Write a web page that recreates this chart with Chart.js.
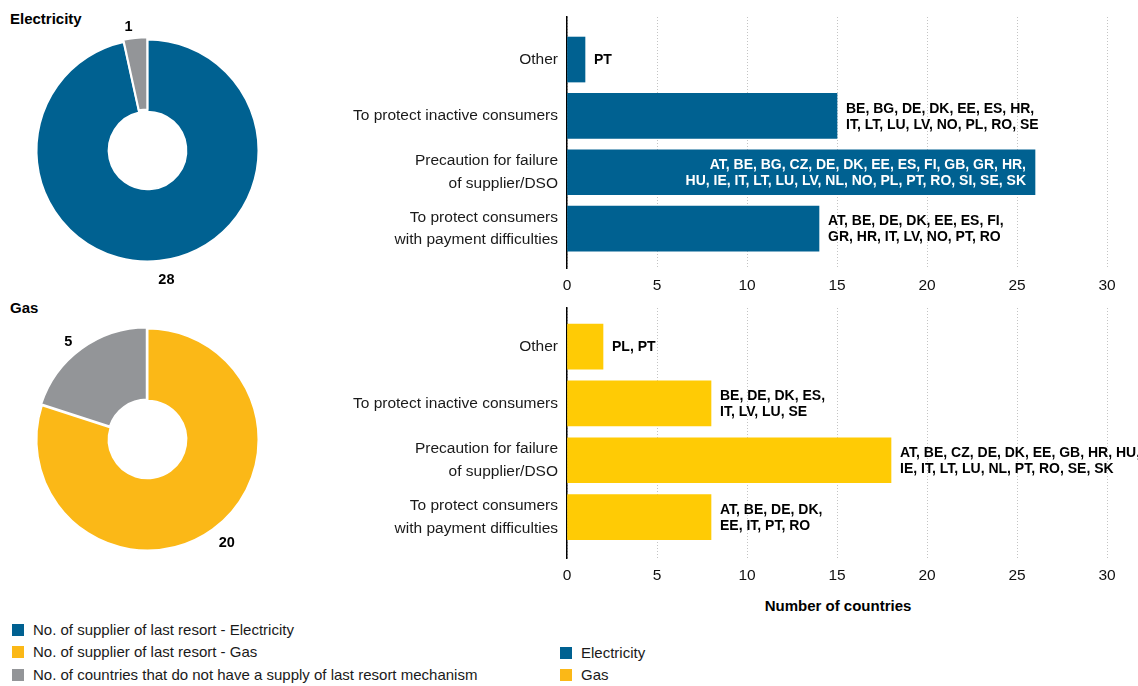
<!DOCTYPE html>
<html><head><meta charset="utf-8">
<script src="https://cdn.jsdelivr.net/npm/chart.js@4.4.0/dist/chart.umd.min.js"></script>
<style>
body{margin:0;background:#fff;font-family:"Liberation Sans","Arial",sans-serif;}
#wrap{position:relative;width:1138px;height:686px;overflow:hidden;background:#fff;}
canvas{position:absolute;}
.t{position:absolute;font-weight:bold;font-size:15px;color:#000;line-height:20px;}
.lg{position:absolute;font-size:15px;color:#1a1a1a;line-height:18px;white-space:nowrap;}
.lg i{position:absolute;left:-21px;top:3px;width:12px;height:12px;}
</style></head>
<body><div id="wrap">
<div class="t" style="left:10px;top:9px">Electricity</div>
<div class="t" style="left:10px;top:298px">Gas</div>
<canvas id="pieE" width="300" height="290" style="left:0;top:0"></canvas>
<canvas id="pieG" width="300" height="300" style="left:0;top:290px"></canvas>
<canvas id="barE" width="838" height="300" style="left:300px;top:0"></canvas>
<canvas id="barG" width="838" height="300" style="left:300px;top:290px"></canvas>
<div class="t" id="xtitle" style="left:738px;width:200px;text-align:center;top:596px;font-size:15px">Number of countries</div>
<div id="legend"></div>
</div>
<script>
const FONT = '"Liberation Sans", Arial, sans-serif';

// ---- data ----
const pieLegendLabels = ['No. of supplier of last resort - Electricity', 'No. of supplier of last resort - Gas', 'No. of countries that do not have a supply of last resort mechanism'];
const barLegendLabels = ['Electricity', 'Gas'];
const elecPieValues = [28, 1];
const gasPieValues = [20, 5];
const reasonLabels = [['Other'], ['To protect inactive consumers'], ['Precaution for failure', 'of supplier/DSO'], ['To protect consumers', 'with payment difficulties']];
const elecBarValues = [1, 15, 26, 14];
const gasBarValues = [2, 8, 18, 8];
const elecCountries = [['PT'], ['BE, BG, DE, DK, EE, ES, HR,', 'IT, LT, LU, LV, NO, PL, RO, SE'], ['AT, BE, BG, CZ, DE, DK, EE, ES, FI, GB, GR, HR,', 'HU, IE, IT, LT, LU, LV, NL, NO, PL, PT, RO, SI, SE, SK'], ['AT, BE, DE, DK, EE, ES, FI,', 'GR, HR, IT, LV, NO, PT, RO']];
const gasCountries = [['PL, PT'], ['BE, DE, DK, ES,', 'IT, LV, LU, SE'], ['AT, BE, CZ, DE, DK, EE, GB, HR, HU,', 'IE, IT, LT, LU, NL, PT, RO, SE, SK'], ['AT, BE, DE, DK,', 'EE, IT, PT, RO']];
const xTickValues = [0, 5, 10, 15, 20, 25, 30];

const BLUE = '#006191', YELLOW_PIE = '#FBB817', YELLOW_BAR = '#FFCB05', GREY = '#939598';

// ---- legend ----
const legend = document.getElementById('legend');
const legItems = [
  [pieLegendLabels[0], BLUE, 33, 621], [pieLegendLabels[1], YELLOW_PIE, 33, 643], [pieLegendLabels[2], GREY, 33, 666],
  [barLegendLabels[0], BLUE, 581, 644], [barLegendLabels[1], YELLOW_PIE, 581, 666]
];
legItems.forEach(([txt, col, x, y]) => {
  const d = document.createElement('div'); d.className = 'lg'; d.style.left = x + 'px'; d.style.top = y + 'px';
  d.innerHTML = '<i style="background:' + col + '"></i>' + txt; legend.appendChild(d);
});

// ---- pies ----
const pieLabelPlugin = {
  id: 'pieLabels',
  afterDatasetsDraw(chart) {
    const ctx = chart.ctx, meta = chart.getDatasetMeta(0), data = chart.data.datasets[0].data;
    ctx.save(); ctx.font = 'bold 14.5px ' + FONT; ctx.fillStyle = '#000'; ctx.textAlign = 'center'; ctx.textBaseline = 'middle';
    meta.data.forEach((arc, i) => {
      const p = arc.getProps(['x', 'y', 'startAngle', 'endAngle', 'outerRadius'], true);
      const a = (p.startAngle + p.endAngle) / 2 - 0.04, r = p.outerRadius + 17;
      ctx.fillText(String(data[i]), p.x + Math.cos(a) * r, p.y + Math.sin(a) * r + 3);
    });
    ctx.restore();
  }
};
function pie(id, values, colors, pad) {
  return new Chart(document.getElementById(id), {
    type: 'doughnut',
    data: { labels: ['a', 'b'], datasets: [{ data: values, backgroundColor: colors, borderColor: '#fff', borderWidth: 2, offset: [0, 5], hoverOffset: 0 }] },
    options: {
      responsive: false, animation: false, cutout: '35%',
      layout: { padding: pad },
      plugins: { legend: { display: false }, tooltip: { enabled: false } }
    },
    plugins: [pieLabelPlugin]
  });
}
pie('pieE', elecPieValues, [BLUE, GREY], { left: 33, top: 36, right: 38, bottom: 25 });
pie('pieG', gasPieValues, [YELLOW_PIE, GREY], { left: 33, top: 35, right: 38, bottom: 36 });

// ---- bars ----
const barLabelPlugin = {
  id: 'barLabels',
  afterDatasetsDraw(chart, args, opts) {
    const ctx = chart.ctx, meta = chart.getDatasetMeta(0), vals = chart.data.datasets[0].data;
    ctx.save(); ctx.font = 'bold 14px ' + FONT; ctx.textBaseline = 'middle';
    meta.data.forEach((bar, i) => {
      const lines = opts.lists[i];
      const inside = vals[i].x > 24;
      ctx.fillStyle = inside ? '#fff' : '#000'; ctx.textAlign = inside ? 'right' : 'left';
      const x = inside ? bar.x - 9 : bar.x + 9;
      lines.forEach((ln, k) => ctx.fillText(ln, x, bar.y + 1 + (k - (lines.length - 1) / 2) * 16));
    });
    ctx.restore();
  }
};
function bars(id, values, lists, color, ymin, ymax, padTop) {
  return new Chart(document.getElementById(id), {
    type: 'bar',
    data: { datasets: [{ data: values.map((v, i) => ({ x: v, y: i })), backgroundColor: color, barThickness: 45 }] },
    options: {
      indexAxis: 'y', responsive: false, animation: false,
      layout: { padding: { top: padTop, right: 31, left: 0, bottom: 0 } },
      plugins: { legend: { display: false }, tooltip: { enabled: false }, barLabels: { lists } },
      scales: {
        x: {
          type: 'linear', min: 0, max: 30, offset: false,
          afterBuildTicks(s) { s.ticks = xTickValues.map(v => ({ value: v })); },
          grid: { color: '#c4c4c4', lineWidth: 1, drawTicks: false },
          border: { display: false, dash: [1, 2] },
          ticks: { padding: 8, font: { size: 15.5, family: FONT }, color: '#111' },
          afterFit(s) { s.height = 32; s.paddingLeft = 0; s.paddingRight = 0; }
        },
        y: {
          type: 'linear', reverse: true, min: ymin, max: ymax, offset: false, bounds: 'data', grace: 0,
          afterBuildTicks(s) { s.ticks = reasonLabels.map((l, i) => ({ value: i })); },
          grid: { display: false, drawTicks: false, offset: false },
          border: { display: true, color: '#000', width: 1.5 },
          ticks: { callback: v => reasonLabels[v], padding: 9, font: { size: 15.5, family: FONT, lineHeight: 1.45 }, color: '#1a1a1a' },
          afterFit(s) { s.width = 267; s.paddingTop = 0; s.paddingBottom = 0; }
        }
      }
    },
    plugins: [barLabelPlugin]
  });
}
bars('barE', elecBarValues, elecCountries, BLUE, -0.755, 3.70, 17);
bars('barG', gasBarValues, gasCountries, YELLOW_BAR, -0.68, 3.72, 18);
</script>
</body></html>
